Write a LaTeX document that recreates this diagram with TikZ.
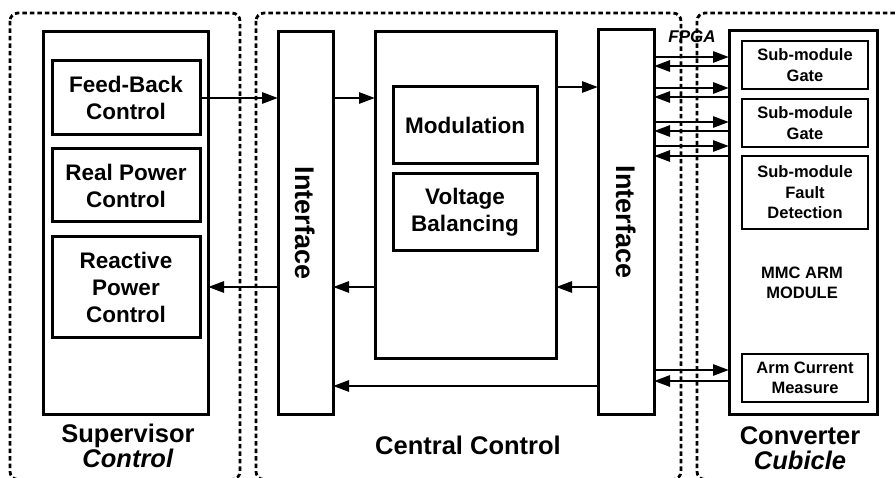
\documentclass[tikz,border=0pt]{standalone}
\usepackage{fontspec}
\setmainfont{Liberation Sans}
\usetikzlibrary{arrows.meta,positioning,calc}

\begin{document}
\begin{tikzpicture}[
  x=1pt, y=-1pt,
  >={Triangle[length=16pt,width=11pt]},
  panel/.style={rectangle, draw=black, line width=3pt, outer sep=0pt, inner sep=0pt},
  block/.style={rectangle, draw=black, line width=3pt, outer sep=0pt, align=center,
                minimum width=148pt, font=\fontsize{22.5}{27}\selectfont\bfseries},
  subblock/.style={rectangle, draw=black, line width=2.8pt, outer sep=0pt, align=center,
                   minimum width=126pt, minimum height=48pt, font=\fontsize{16.5}{20.5}\selectfont\bfseries},
  port/.style={rectangle, draw=black, line width=3pt, outer sep=0pt, minimum height=382pt},
  porttext/.style={rotate=-90, font=\fontsize{27}{30}\selectfont\bfseries},
  zone/.style={draw=black, line width=2.8pt, dash pattern=on 4.5pt off 3pt, rounded corners=8pt},
  flow/.style={->, line width=2.8pt},
  title/.style={align=center, font=\fontsize{25.5}{24.5}\selectfont\bfseries},
]
\useasboundingbox[fill=white] (0,0) rectangle (896,478);

% dashed areas
\draw[zone] (10,13) rectangle (240,479.5);
\draw[zone] (256,13) rectangle (681,479.5);
\draw[zone] (697,13) rectangle (905,479.5);

% supervisor control
\node[panel, minimum width=165pt, minimum height=382pt] (sup) at (125.5,223) {};
\node[block, minimum height=74pt] (fb) at (126,98) {Feed-Back\\Control};
\node[block, minimum height=73pt, below=14pt of fb] (rp) {Real Power\\Control};
\node[block, minimum height=100pt, below=15pt of rp] (rc) {Reactive\\Power\\Control};

% central control
\node[port, minimum width=55pt] (if1) at (305.5,223) {};
\node[porttext] (if1t) at (if1) {Interface};
\node[panel, minimum width=181pt, minimum height=326pt] (cb) at (465.5,195) {};
\node[block, minimum width=144pt, minimum height=77pt] (mod) at (465,125.5) {Modulation};
\node[block, minimum width=144pt, minimum height=77pt, below=10pt of mod] (vb) {Voltage\\Balancing};
\node[port, minimum width=56pt, minimum height=384pt] (if2) at (626,222) {};
\node[porttext] (if2t) at (if2) {Interface};

% converter cubicle
\node[panel, minimum width=148pt, minimum height=383pt] (arm) at (803,222.5) {};
\node[subblock] (sg1) at (805,65) {Sub-module\\Gate};
\node[subblock, below=10pt of sg1] (sg2) {Sub-module\\Gate};
\node[subblock, minimum height=73pt, below=9pt of sg2] (sfd) {Sub-module\\Fault\\Detection};
\node[subblock] (acm) at (805,378) {Arm Current\\Measure};
\node[align=center, font=\fontsize{16.5}{20.5}\selectfont\bfseries] (armt) at (802,283) {MMC ARM\\MODULE};
\node[font=\fontsize{17}{20}\selectfont\bfseries\itshape] (fpga) at (692,37) {FPGA};

% titles
\node[title] (supt) at (128,446) {Supervisor\\\textit{Control}};
\node[title] (cent) at (468,445) {Central Control};
\node[title] (cont) at (800,448) {Converter\\\textit{Cubicle}};

% signals
\coordinate (bus) at (0,386);
\draw[flow] (fb.east) -- (fb.east -| if1.west);
\draw[flow] (if1.east |- fb.east) -- (cb.west |- fb.east);
\draw[flow] (cb.east |- mod.north) -- (if2.west |- mod.north);
\draw[flow] (cb.west |- rc.east) -- (if1.east |- rc.east);
\draw[flow] (if2.west |- rc.east) -- (cb.east |- rc.east);
\draw[flow] (if1.west |- rc.east) -- (sup.east |- rc.east);
\draw[flow] (if2.west |- bus) -- (if1.east |- bus);
\foreach \ya/\yb in {57/66,88/97,122/131,146/156,370/381} {
  \coordinate (ta) at (0,\ya);
  \coordinate (tb) at (0,\yb);
  \draw[flow] (if2.east |- ta) -- (arm.west |- ta);
  \draw[flow] (arm.west |- tb) -- (if2.east |- tb);
}

\end{tikzpicture}
\end{document}
